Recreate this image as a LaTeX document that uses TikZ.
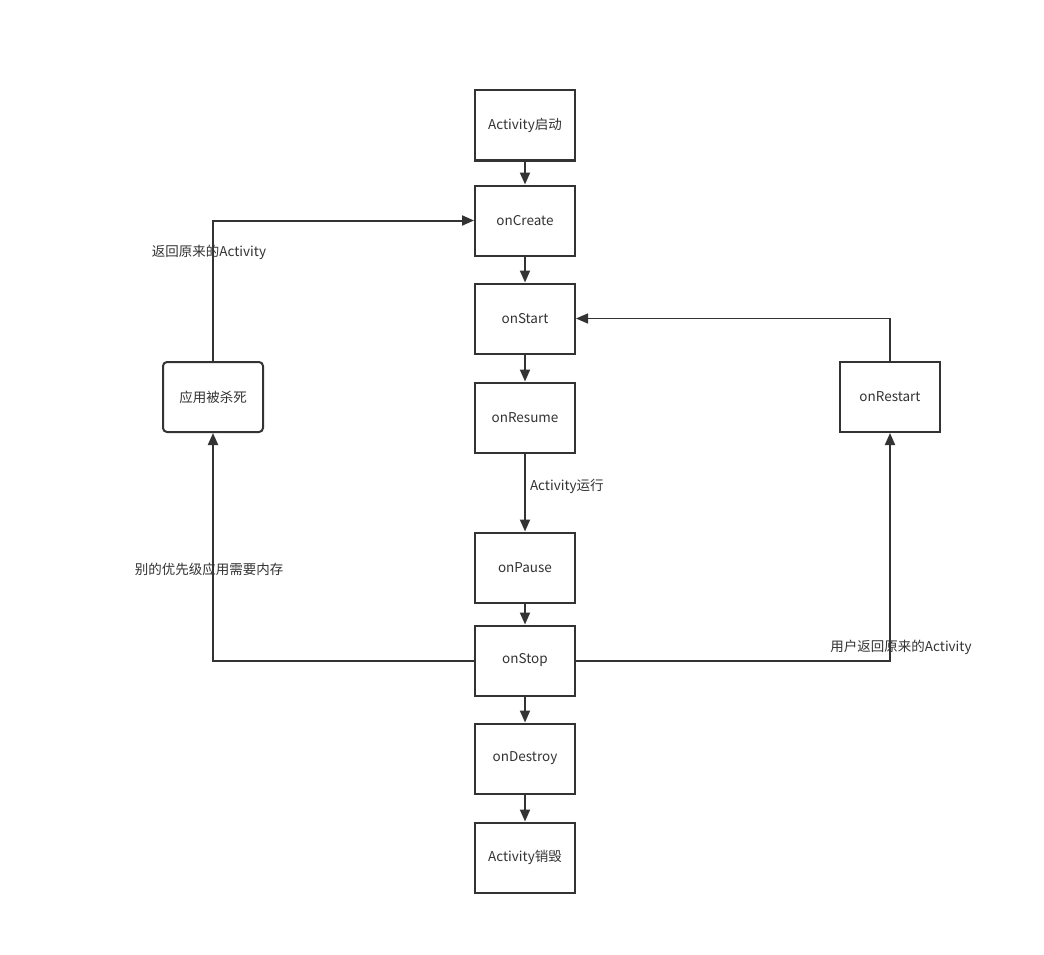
\documentclass[tikz,border=0pt]{standalone}
\usepackage{fontspec}
\setmainfont{Noto Sans CJK SC}
\usetikzlibrary{arrows.meta}
\definecolor{ink}{HTML}{333333}
\tikzset{
  txt/.style={font=\fontsize{13.5pt}{16pt}\selectfont},
  box/.style={draw=ink, line width=2pt, minimum width=100pt, minimum height=70pt, inner sep=0pt, text=ink, txt},
  rbox/.style={box, rounded corners=4pt},
  conn/.style={draw=ink, line width=2pt, -{Triangle[length=12pt,width=10pt]}},
  thin conn/.style={conn, line width=1.4pt},
  lbl/.style={text=ink, inner sep=0pt, txt}
}
\begin{document}
\begin{tikzpicture}[x=1pt,y=-1pt]
\useasboundingbox[fill=white] (0,0) rectangle (1044,955);
\node[box] (start) at (525,125.5) {Activity启动};
\node[box] (create) at (525,220.5) {onCreate};
\node[box] (onstart) at (525,318.5) {onStart};
\node[box] (resume) at (525,417.5) {onResume};
\node[box] (pause) at (525,567.5) {onPause};
\node[box] (stop) at (525,660.5) {onStop};
\node[box] (destroy) at (525,758.5) {onDestroy};
\node[box] (end) at (525,857.5) {Activity销毁};
\node[rbox] (killed) at (213,397) {应用被杀死};
\node[box] (restart) at (890,397) {onRestart};

\draw[conn] (start) -- (create);
\draw[conn] (create) -- (onstart);
\draw[conn] (onstart) -- (resume);
\draw[conn] (resume) -- node[lbl, anchor=west, xshift=4pt, pos=0.42] (lrun) {Activity运行} (pause);
\draw[conn] (pause) -- (stop);
\draw[conn] (stop) -- (destroy);
\draw[conn] (destroy) -- (end);

\draw[conn] (killed.north) |- (create.west);
\node[lbl] (lback) at (209,252) {返回原来的Activity};
\draw[conn] (stop.west) -| (killed.south);
\node[lbl] (lmem) at (209,569) {别的优先级应用需要内存};
\draw[conn] (stop.east) -| (restart.south);
\node[lbl] (luser) at (901,647) {用户返回原来的Activity};
\draw[thin conn] (restart.north) |- (onstart.east);
\end{tikzpicture}
\end{document}
